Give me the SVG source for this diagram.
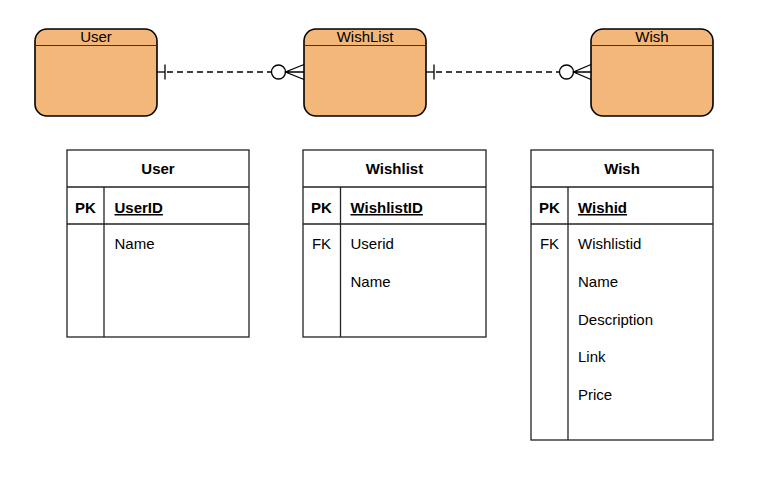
<svg xmlns="http://www.w3.org/2000/svg" width="768" height="493" viewBox="0 0 768 493">
<style>
text{font-family:"Liberation Sans",Arial,sans-serif;font-size:15px;fill:#000}
.ent{fill:#F4B77A;stroke:#000;stroke-width:1.6}
.hl{stroke:#4a3018;stroke-width:1.2}
.tb{fill:#fff;stroke:#222;stroke-width:1.3}
.ln{stroke:#000;stroke-width:1.3;fill:none}
.b{font-weight:bold}
.c{text-anchor:middle}
.dash{stroke-dasharray:6 4}
</style>
<rect width="768" height="493" fill="#fff"/>
<g id="entity-user">
<rect class="ent" x="35" y="29" width="122" height="87" rx="12"/>
<line class="hl" x1="35" y1="45.5" x2="157" y2="45.5"/>
<text class="c" x="96" y="42">User</text>
</g>
<g id="entity-wishlist">
<rect class="ent" x="304" y="29" width="122" height="87" rx="12"/>
<line class="hl" x1="304" y1="45.5" x2="426" y2="45.5"/>
<text class="c" x="365" y="42">WishList</text>
</g>
<g id="entity-wish">
<rect class="ent" x="591" y="29" width="122" height="87" rx="12"/>
<line class="hl" x1="591" y1="45.5" x2="713" y2="45.5"/>
<text class="c" x="652" y="42">Wish</text>
</g>
<g id="connectors">
<g id="user-wishlist">
<line class="ln" x1="157" y1="72" x2="165" y2="72"/>
<line class="ln" x1="165" y1="64.5" x2="165" y2="79.5"/>
<line class="ln dash" x1="167" y1="72" x2="271" y2="72"/>
<circle class="ln" cx="278.5" cy="72" r="7"/>
<path class="ln" d="M304 64.5 L285.5 72 L304 79.5 M285.5 72 H304"/>
</g>
<g id="wishlist-wish">
<line class="ln" x1="426" y1="72" x2="434" y2="72"/>
<line class="ln" x1="434" y1="64.5" x2="434" y2="79.5"/>
<line class="ln dash" x1="436" y1="72" x2="559.5" y2="72"/>
<circle class="ln" cx="566.5" cy="72" r="7"/>
<path class="ln" d="M591 64.5 L573.5 72 L591 79.5 M573.5 72 H591"/>
</g>
</g>
<g id="table-user">
<rect class="tb" x="67" y="150" width="182" height="187"/>
<line class="tb" x1="67" y1="187" x2="249" y2="187"/>
<line class="tb" x1="67" y1="224" x2="249" y2="224"/>
<line class="tb" x1="104" y1="187" x2="104" y2="337"/>
<text class="b c" x="158" y="174">User</text>
<text class="b c" x="85.5" y="213">PK</text>
<text class="b" x="114.5" y="213" text-decoration="underline">UserID</text>
<text x="114.5" y="249">Name</text>
</g>
<g id="table-wishlist">
<rect class="tb" x="303" y="150" width="183" height="187"/>
<line class="tb" x1="303" y1="187" x2="486" y2="187"/>
<line class="tb" x1="303" y1="224" x2="486" y2="224"/>
<line class="tb" x1="340.5" y1="187" x2="340.5" y2="337"/>
<text class="b c" x="394.5" y="174">Wishlist</text>
<text class="b c" x="321.5" y="213">PK</text>
<text class="b" x="350.5" y="213" text-decoration="underline">WishlistID</text>
<text class="c" x="321.5" y="249">FK</text>
<text x="350.5" y="249">Userid</text>
<text x="350.5" y="287">Name</text>
</g>
<g id="table-wish">
<rect class="tb" x="531" y="150" width="182" height="290"/>
<line class="tb" x1="531" y1="187" x2="713" y2="187"/>
<line class="tb" x1="531" y1="224" x2="713" y2="224"/>
<line class="tb" x1="568" y1="187" x2="568" y2="440"/>
<text class="b c" x="622" y="174">Wish</text>
<text class="b c" x="549.5" y="213">PK</text>
<text class="b" x="578" y="213" text-decoration="underline">Wishid</text>
<text class="c" x="549.5" y="249">FK</text>
<text x="578" y="249">Wishlistid</text>
<text x="578" y="287">Name</text>
<text x="578" y="324.5">Description</text>
<text x="578" y="362">Link</text>
<text x="578" y="399.5">Price</text>
</g>
</svg>
